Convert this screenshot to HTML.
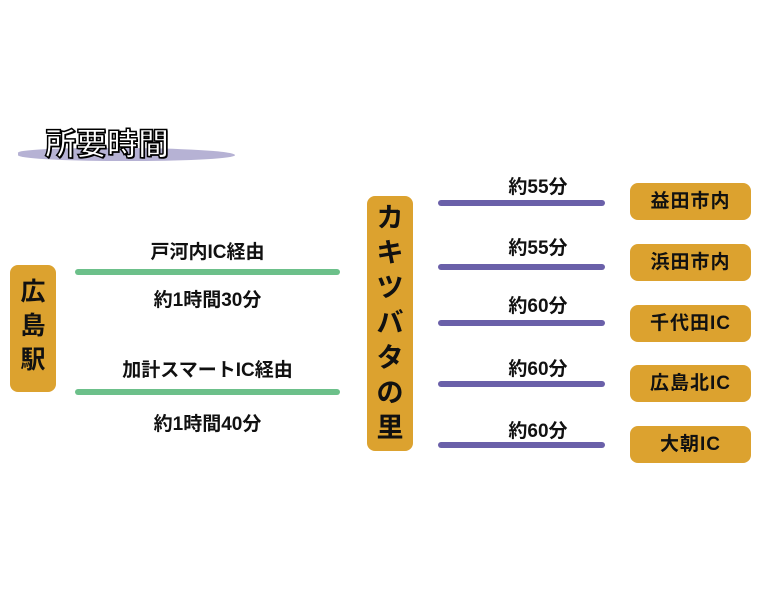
<!DOCTYPE html>
<html><head><meta charset="utf-8"><style>
body{margin:0;width:760px;height:600px;background:#fff;position:relative;overflow:hidden;font-family:"Liberation Sans","Noto Sans CJK JP",sans-serif;font-weight:bold;color:#111}
.a{position:absolute}
.box{position:absolute;background:#dca22f;border-radius:8px}
.r{left:630px;width:121px;height:37px;font-size:19px;line-height:37px;text-align:center;letter-spacing:1px}
.lbl{position:absolute;font-size:19px;text-align:center;white-space:nowrap}
.pl{position:absolute;left:438px;width:167px;height:6px;background:#5a4fa0;border-radius:3px;opacity:.9}
.gl{position:absolute;left:75px;width:265px;height:6px;background:#6cc08a;border-radius:3px}
.v{font-size:25px;line-height:34px;text-align:center}
</style></head><body>
<div class="a" style="left:18px;top:148px;width:217px;height:13px;background:#a9a4cc;border-radius:40% 60% 50% 50%;opacity:.85"></div>
<div class="a" style="left:45px;top:119px;font-size:31px;color:#fff;-webkit-text-stroke:1.5px #000;text-shadow:1px 1px 0 #000">所要時間</div>

<div class="box v" style="left:10px;top:265px;width:46px;height:127px;padding-top:10px;box-sizing:border-box">広<br>島<br>駅</div>
<div class="lbl" style="left:75px;width:265px;top:237px">戸河内IC経由</div>
<div class="gl" style="top:269px"></div>
<div class="lbl" style="left:75px;width:265px;top:285px">約1時間30分</div>
<div class="lbl" style="left:75px;width:265px;top:355px">加計スマートIC経由</div>
<div class="gl" style="top:389px"></div>
<div class="lbl" style="left:75px;width:265px;top:409px">約1時間40分</div>

<div class="box v" style="left:367px;top:196px;width:46px;height:255px;padding-top:5px;box-sizing:border-box;line-height:35px;font-size:27px">カ<br>キ<br>ツ<br>バ<br>タ<br>の<br>里</div>

<div class="lbl" style="left:438px;width:200px;top:172px">約55分</div>
<div class="pl" style="top:200px"></div>
<div class="lbl" style="left:438px;width:200px;top:233px">約55分</div>
<div class="pl" style="top:264px"></div>
<div class="lbl" style="left:438px;width:200px;top:291px">約60分</div>
<div class="pl" style="top:320px"></div>
<div class="lbl" style="left:438px;width:200px;top:354px">約60分</div>
<div class="pl" style="top:381px"></div>
<div class="lbl" style="left:438px;width:200px;top:416px">約60分</div>
<div class="pl" style="top:442px"></div>

<div class="box r" style="top:183px">益田市内</div>
<div class="box r" style="top:244px">浜田市内</div>
<div class="box r" style="top:305px">千代田IC</div>
<div class="box r" style="top:365px">広島北IC</div>
<div class="box r" style="top:426px">大朝IC</div>
</body></html>
